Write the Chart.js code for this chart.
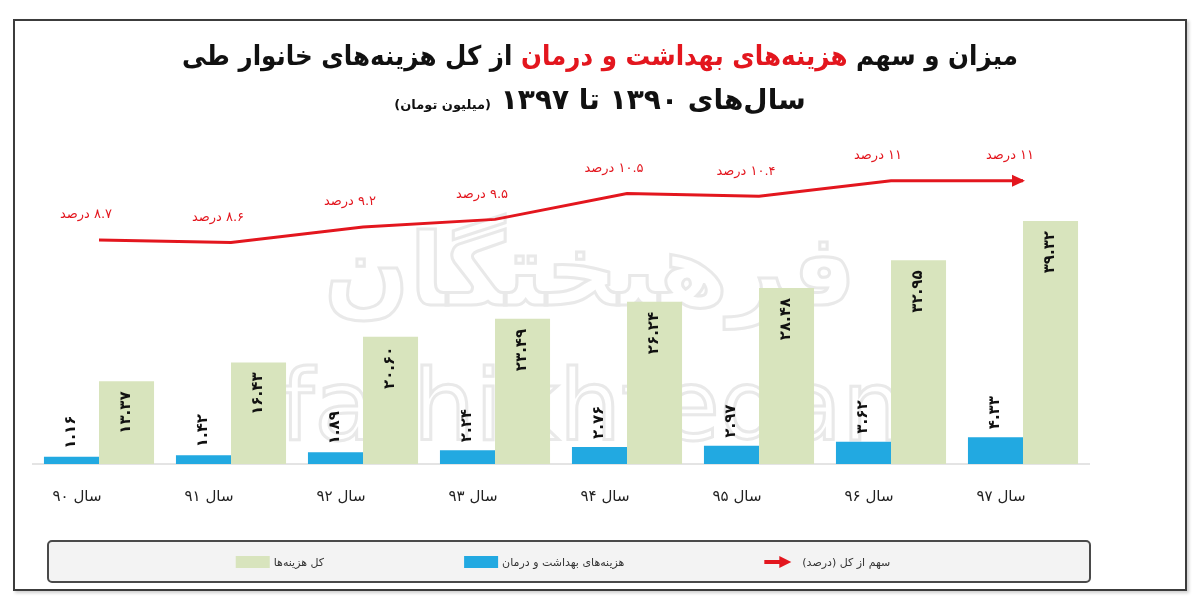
<!DOCTYPE html>
<html lang="fa">
<head>
<meta charset="utf-8">
<script src="https://cdn.jsdelivr.net/npm/chart.js@4.4.1/dist/chart.umd.min.js"></script>
<style>
  html, body { margin: 0; padding: 0; background: #fff; }
  #wrap { position: relative; width: 1200px; height: 604px; overflow: hidden; }
  #frame { position: absolute; left: 13px; top: 19px; width: 1170px; height: 568px;
           border: 2px solid #3c3c3c; box-shadow: 2px 2px 3px #cfcfcf; }
  #chartBox { position: absolute; left: 0; top: 0; width: 1200px; height: 604px; }
  .title { position: absolute; left: 0; width: 1200px; text-align: center; direction: rtl;
           font-family: "DejaVu Sans", sans-serif; font-weight: bold; color: #111; white-space: nowrap; }
  #t1 { top: 40px; font-size: 27px; transform: scaleX(0.91); }
  #t2 { top: 83px; font-size: 28px; }
  #t1 .red { color: #e3161e; }
  #t2 small { font-size: 13px; }
</style>
</head>
<body>
<div id="wrap">
  <div id="frame"></div>
  <div id="chartBox"><canvas id="shareChart"></canvas></div>
  <div class="title" id="t1">میزان و سهم <span class="red">هزینه‌های بهداشت و درمان</span> از کل هزینه‌های خانوار طی</div>
  <div class="title" id="t2">سال‌های ۱۳۹۰ تا ۱۳۹۷ <small>(میلیون تومان)</small></div>
</div>
<script>
var years = ['سال ۹۰', 'سال ۹۱', 'سال ۹۲', 'سال ۹۳', 'سال ۹۴', 'سال ۹۵', 'سال ۹۶', 'سال ۹۷'];
var healthCost = [1.16, 1.42, 1.89, 2.24, 2.76, 2.97, 3.62, 4.33];
var totalCost = [13.37, 16.43, 20.60, 23.49, 26.24, 28.48, 32.95, 39.32];
var sharePct = [8.7, 8.6, 9.2, 9.5, 10.5, 10.4, 11, 11];

var RED = '#e3161e', BLUE = '#22a9e1', GREEN = '#d8e4bd';

function toFa(s) {
  return String(s).replace(/[0-9]/g, function(d) { return '۰۱۲۳۴۵۶۷۸۹'[d]; });
}

// watermark, drawn under the bars
var watermark = {
  id: 'watermark',
  beforeDatasetsDraw: function(chart) {
    var ctx = chart.ctx;
    ctx.save();
    ctx.strokeStyle = '#e9e9e9';
    ctx.lineWidth = 3;
    ctx.textAlign = 'center';
    ctx.font = 'bold 100px "DejaVu Sans"';
    ctx.direction = 'rtl';
    ctx.strokeText('فرهیختگان', 590, 305);
    ctx.direction = 'ltr';
    ctx.font = '98px "DejaVu Sans"';
    ctx.strokeText('farhikhtegan', 592, 440);
    ctx.restore();
  }
};

var labelsPlugin = {
  id: 'valueLabels',
  afterDatasetsDraw: function(chart) {
    var ctx = chart.ctx;
    ctx.save();
    // bar values, rotated
    ctx.font = 'bold 15px "DejaVu Sans"';
    ctx.fillStyle = '#111';
    ctx.textBaseline = 'middle';
    ctx.direction = 'ltr';
    chart.getDatasetMeta(1).data.forEach(function(bar, i) {
      ctx.save();
      ctx.translate(bar.x, bar.y - 8);
      ctx.rotate(-Math.PI / 2);
      ctx.textAlign = 'left';
      ctx.fillText(toFa(healthCost[i].toFixed(2)), 0, 0);
      ctx.restore();
    });
    chart.getDatasetMeta(2).data.forEach(function(bar, i) {
      ctx.save();
      ctx.translate(bar.x, bar.y + 10);
      ctx.rotate(-Math.PI / 2);
      ctx.textAlign = 'right';
      ctx.fillText(toFa(totalCost[i].toFixed(2)), 0, 0);
      ctx.restore();
    });
    // percent labels + arrow head
    var pts = chart.getDatasetMeta(0).data;
    ctx.font = '13px "DejaVu Sans"';
    ctx.fillStyle = RED;
    ctx.textAlign = 'center';
    ctx.direction = 'rtl';
    pts.forEach(function(p, i) {
      ctx.fillText(toFa(sharePct[i]) + ' درصد', p.x - 13, p.y - 25);
    });
    var last = pts[pts.length - 1];
    ctx.beginPath();
    ctx.moveTo(last.x + 2, last.y);
    ctx.lineTo(last.x - 11, last.y - 6);
    ctx.lineTo(last.x - 11, last.y + 6);
    ctx.closePath();
    ctx.fill();
    ctx.restore();
  }
};

function arrowIcon(ctx, x, y) {
  ctx.fillStyle = RED;
  ctx.fillRect(x, y - 2, 17, 4);
  ctx.beginPath();
  ctx.moveTo(x + 27, y);
  ctx.lineTo(x + 15, y - 6);
  ctx.lineTo(x + 15, y + 6);
  ctx.closePath();
  ctx.fill();
}

var legendBox = {
  id: 'legendBox',
  afterDraw: function(chart) {
    var ctx = chart.ctx;
    ctx.save();
    ctx.beginPath();
    ctx.roundRect(48, 541, 1042, 41, 4);
    ctx.fillStyle = '#f3f3f3';
    ctx.fill();
    ctx.lineWidth = 2;
    ctx.strokeStyle = '#4a4a4a';
    ctx.stroke();

    var ds = chart.data.datasets;
    var items = [ds[2], ds[1], ds[0]];
    ctx.font = '11px "DejaVu Sans"';
    ctx.direction = 'rtl';
    ctx.textBaseline = 'middle';
    var gap = 140, iconW = 34, total = 0;
    var widths = items.map(function(d) { return ctx.measureText(d.label).width; });
    widths.forEach(function(w) { total += iconW + 4 + w; });
    total += gap * (items.length - 1);
    var x = 563 - total / 2, y = 562;
    items.forEach(function(d, i) {
      if (d.type === 'line') {
        arrowIcon(ctx, x, y);
      } else {
        ctx.fillStyle = d.backgroundColor;
        ctx.fillRect(x, y - 6, iconW, 12);
      }
      ctx.fillStyle = '#333';
      ctx.textAlign = 'left';
      ctx.fillText(d.label, x + iconW + 4, y + 1);
      x += iconW + 4 + widths[i] + gap;
    });
    ctx.restore();
  }
};

new Chart(document.getElementById('shareChart'), {
  data: {
    labels: years,
    datasets: [
      {
        type: 'line',
        label: 'سهم از کل (درصد)',
        data: sharePct,
        yAxisID: 'y1',
        borderColor: RED,
        backgroundColor: RED,
        borderWidth: 3,
        pointRadius: 0,
        tension: 0
      },
      {
        type: 'bar',
        label: 'هزینه‌های بهداشت و درمان',
        data: healthCost,
        backgroundColor: BLUE,
        barPercentage: 1,
        categoryPercentage: 0.834
      },
      {
        type: 'bar',
        label: 'کل هزینه‌ها',
        data: totalCost,
        backgroundColor: GREEN,
        barPercentage: 1,
        categoryPercentage: 0.834
      }
    ]
  },
  options: {
    responsive: true,
    maintainAspectRatio: false,
    animation: false,
    layout: { padding: { left: 33, right: 111, top: 155, bottom: 74 } },
    plugins: {
      legend: { display: false },
      tooltip: { enabled: false }
    },
    scales: {
      x: {
        grid: { display: false, drawTicks: false },
        border: { color: '#e4e4e4', width: 2 },
        ticks: { color: '#222', font: { family: 'DejaVu Sans', size: 15 }, padding: 24, labelOffset: -22 }
      },
      y: { display: false, min: 0, max: 50 },
      y1: { display: false, min: 0, max: 12 }
    }
  },
  plugins: [watermark, labelsPlugin, legendBox]
});
</script>
</body>
</html>
